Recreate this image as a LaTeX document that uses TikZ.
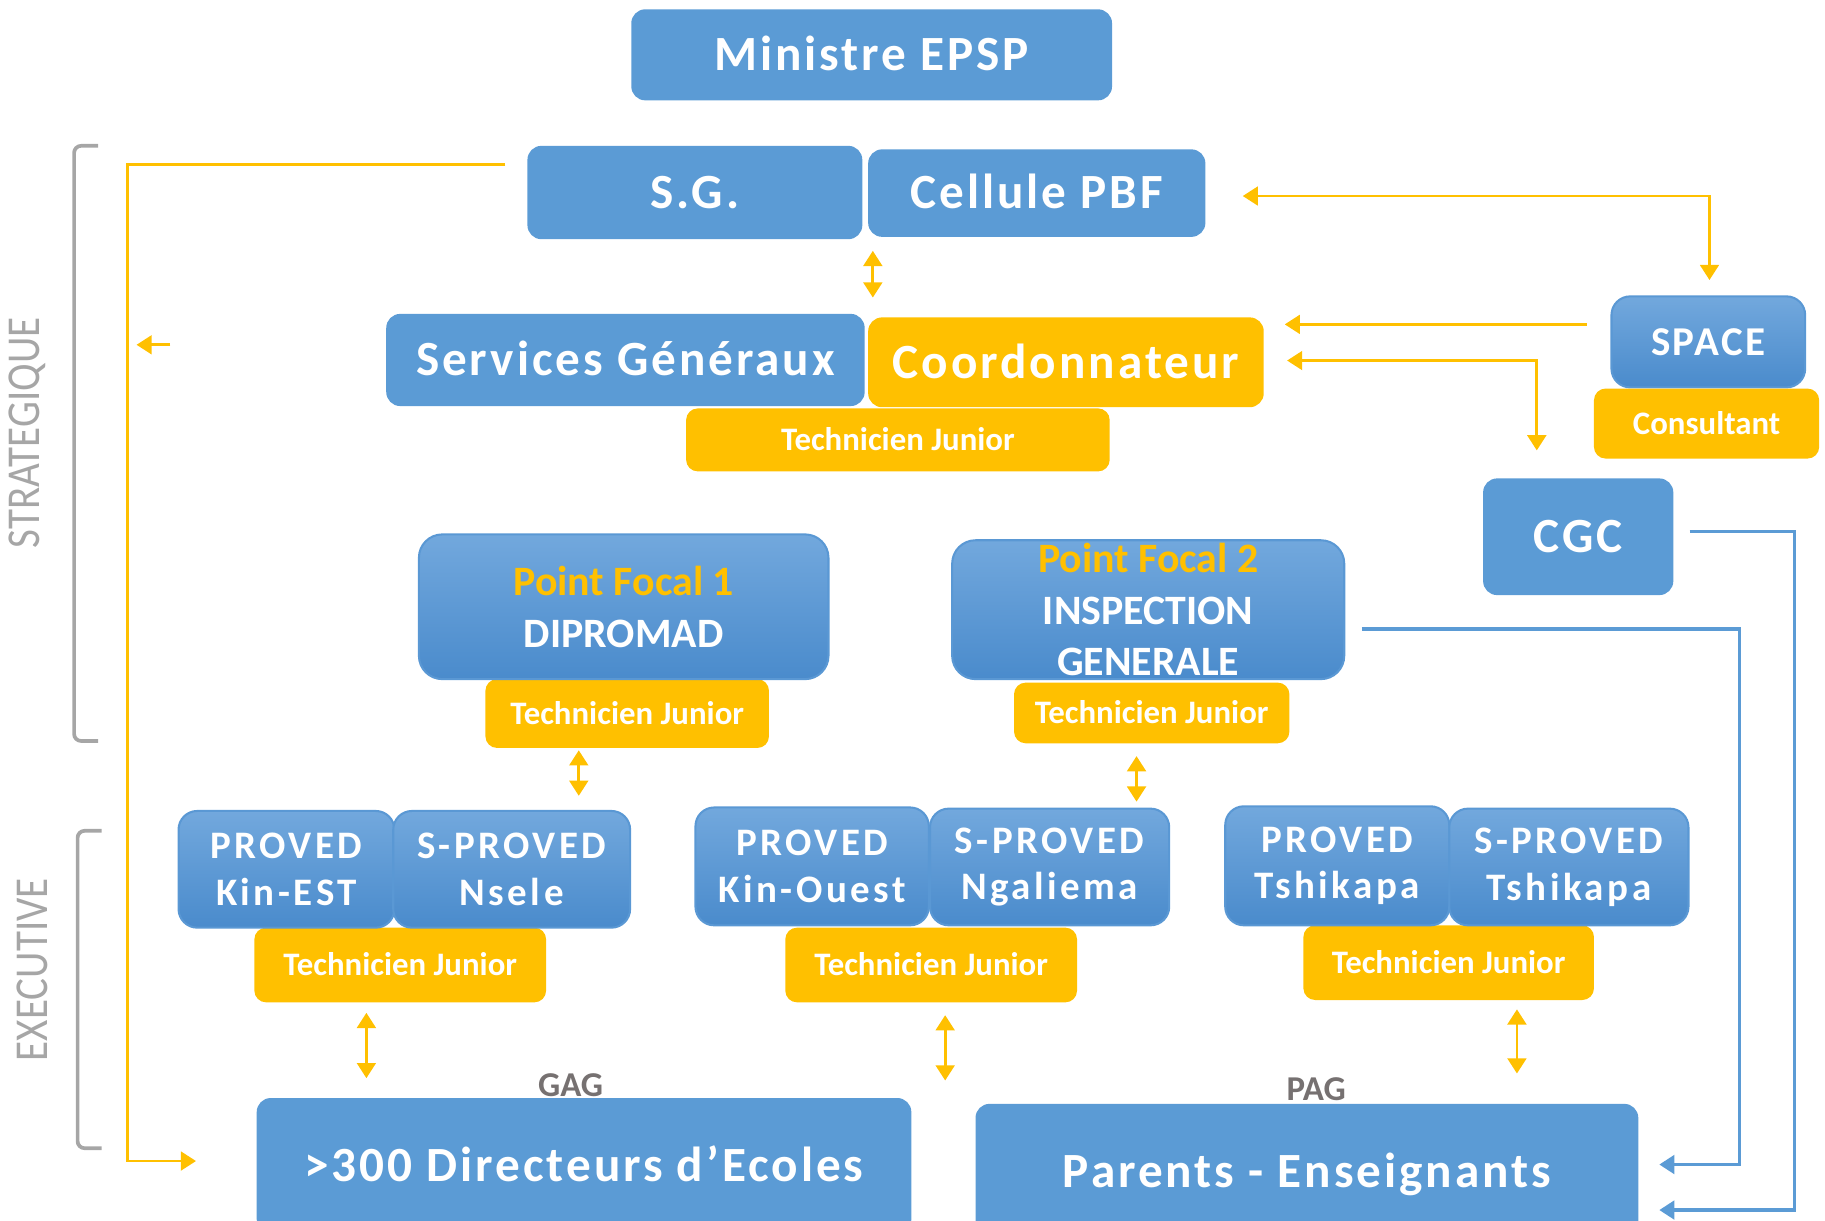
\documentclass[tikz,border=0pt]{standalone}
\usepackage{fontspec}
\setmainfont{Carlito}
\newfontfamily\spacedfont[LetterSpace=6]{Carlito}
\newfontfamily\provedfont[LetterSpace=9]{Carlito}
\usetikzlibrary{arrows.meta}

\definecolor{boxblue}{HTML}{5B9BD5}
\definecolor{gradtop}{HTML}{72A8DD}
\definecolor{gradbot}{HTML}{4A8BCC}
\definecolor{gradedge}{HTML}{5A98D4}
\definecolor{techyellow}{HTML}{FFC000}
\definecolor{levelgray}{HTML}{A6A6A6}
\definecolor{taggray}{HTML}{767171}

\newcommand\unitfont{\spacedfont\bfseries\fontsize{12}{14}\selectfont}
\newcommand\spacefont{\spacedfont\bfseries\fontsize{10}{12}\selectfont}
\newcommand\provfont{\provedfont\bfseries\fontsize{9.5}{11.4}\selectfont}
\newcommand\focalfont{\bfseries\fontsize{10.2}{12.6}\selectfont}
\newcommand\techfont{\bfseries\fontsize{8}{9.6}\selectfont}
\newcommand\tagfont{\bfseries\fontsize{8.5}{10}\selectfont}
\newcommand\levelfont{\fontsize{11.5}{13}\selectfont}

\begin{document}
\begin{tikzpicture}[>={Triangle[length=1.3mm,width=1.6mm]},
    every node/.style={inner sep=0pt, outer sep=0pt, align=center, text=white},
    unit/.style={fill=boxblue, rounded corners=1.2mm, font=\unitfont, text height=7.7pt, text depth=0pt},
    shaded/.style={top color=gradtop, bottom color=gradbot, draw=gradedge, line width=0.5pt, rounded corners=1.6mm},
    tech/.style={fill=techyellow, rounded corners=1mm, font=\techfont, text height=5.2pt, text depth=0pt},
    link/.style={draw=techyellow, line width=0.7pt},
    bluelink/.style={draw=boxblue, line width=0.8pt},
    level/.style={text=levelgray, font=\levelfont, rotate=90},
    bracket/.style={draw=levelgray, line width=0.9pt, rounded corners=0.6mm}]
        \useasboundingbox (0,0) rectangle (15.64,-10.46);
        \clip (0,0) rectangle (15.64,-10.46);

        % strategic level
        \node[unit, minimum width=4.12cm, minimum height=0.78cm](ministre) at (7.47,-0.47) {Ministre EPSP};
        \node[unit, minimum width=2.87cm, minimum height=0.80cm](sg) at (5.955,-1.65) {S.G.};
        \node[unit, minimum width=2.89cm, minimum height=0.75cm](pbf) at (8.885,-1.655) {Cellule PBF};
        \node[tech, minimum width=3.63cm, minimum height=0.54cm](tjcoord) at (7.695,-3.77) {Technicien Junior};
        \node[unit, minimum width=4.10cm, minimum height=0.79cm](servgen) at (5.36,-3.085) {Services Généraux};
        \node[unit, fill=techyellow, minimum width=3.39cm, minimum height=0.77cm](coord) at (9.135,-3.105) {Coordonnateur};
        \node[shaded, font=\spacefont, text height=6.4pt, text depth=0pt, minimum width=1.66cm, minimum height=0.78cm](space) at (14.64,-2.93) {SPACE};
        \node[tech, minimum width=1.93cm, minimum height=0.60cm](consult) at (14.625,-3.63) {Consultant};
        \node[unit, minimum width=1.63cm, minimum height=1.00cm](cgc) at (13.525,-4.60) {CGC};

        % focal points
        \node[tech, minimum width=2.43cm, minimum height=0.59cm](tjfocal1) at (5.375,-6.115) {Technicien Junior};
        \node[shaded, rounded corners=2mm, font=\focalfont, minimum width=3.51cm, minimum height=1.24cm](focal1) at (5.345,-5.20) {\textcolor{techyellow}{Point Focal 1}\\DIPROMAD};
        \node[tech, minimum width=2.36cm, minimum height=0.52cm](tjfocal2) at (9.87,-6.11) {Technicien Junior};
        \node[shaded, rounded corners=2mm, font=\focalfont, minimum width=3.36cm, minimum height=1.19cm](focal2) at (9.84,-5.225) {\textcolor{techyellow}{Point Focal 2}\\INSPECTION\\GENERALE};

        % executive level
        \node[tech, minimum width=2.50cm, minimum height=0.64cm](tjkin1) at (3.43,-8.27) {Technicien Junior};
        \node[shaded, font=\provfont, minimum width=1.85cm, minimum height=1.00cm](provkinest) at (2.455,-7.45) {PROVED\\Kin-EST};
        \node[shaded, font=\provfont, minimum width=2.03cm, minimum height=1.00cm](sprovnsele) at (4.385,-7.45) {S-PROVED\\Nsele};
        \node[tech, minimum width=2.50cm, minimum height=0.64cm](tjkin2) at (7.98,-8.27) {Technicien Junior};
        \node[shaded, font=\provfont, minimum width=2.00cm, minimum height=1.01cm](provkinouest) at (6.96,-7.425) {PROVED\\Kin-Ouest};
        \node[shaded, font=\provfont, minimum width=2.05cm, minimum height=1.00cm](sprovngaliema) at (8.995,-7.43) {S-PROVED\\Ngaliema};
        \node[tech, minimum width=2.49cm, minimum height=0.64cm](tjtshikapa) at (12.415,-8.25) {Technicien Junior};
        \node[shaded, font=\provfont, minimum width=1.92cm, minimum height=1.02cm](provtshikapa) at (11.46,-7.42) {PROVED\\Tshikapa};
        \node[shaded, font=\provfont, minimum width=2.05cm, minimum height=1.00cm](sprovtshikapa) at (13.445,-7.43) {S-PROVED\\Tshikapa};

        \node[unit, minimum width=5.61cm, minimum height=1.16cm](directeurs) at (5.005,-9.99) {>300 Directeurs d’Ecoles};
        \node[unit, minimum width=5.68cm, minimum height=1.16cm](parents) at (11.20,-10.04) {Parents - Enseignants};
        \node[text=taggray, font=\tagfont](gag) at (4.89,-9.30) {GAG};
        \node[text=taggray, font=\tagfont](pag) at (11.28,-9.33) {PAG};

        % levels
        \node[level](strategique) at (0.235,-3.71) {\scalebox{0.87}[1]{STRATEGIQUE}};
        \node[level](executive) at (0.275,-8.31) {\scalebox{0.87}[1]{EXECUTIVE}};
        \draw[bracket] (0.84,-1.25) -- (0.635,-1.25) -- (0.635,-6.35) -- (0.84,-6.35);
        \draw[bracket] (0.87,-7.12) -- (0.665,-7.12) -- (0.665,-9.84) -- (0.87,-9.84);

        % links
        \coordinate (sgtail) at (4.33,-1.41);
        \coordinate (leftbend) at (1.09,-1.41);
        \coordinate (dirtip) at (1.68,-9.95);
        \draw[link,->] (sgtail) -- (leftbend) |- (dirtip);
        \coordinate (stubtail) at (1.46,-2.955);
        \coordinate (stubtip) at (1.17,-2.955);
        \draw[link,->] (stubtail) -- (stubtip);

        \coordinate (sgbelow) at (7.48,-2.15);
        \coordinate (coordabove) at (7.48,-2.55);
        \draw[link,<->] (sgbelow) -- (coordabove);
        \coordinate (pbfright) at (10.65,-1.68);
        \coordinate (spaceabove) at (14.65,-2.40);
        \draw[link,<->] (pbfright) -| (spaceabove);
        \coordinate (coordright1) at (11.01,-2.78);
        \coordinate (spaceleft) at (13.60,-2.78);
        \draw[link,<-] (coordright1) -- (spaceleft);
        \coordinate (coordright2) at (11.03,-3.09);
        \coordinate (cgcabove) at (13.17,-3.86);
        \draw[link,<->] (coordright2) -| (cgcabove);

        \coordinate (focal1below) at (4.96,-6.43);
        \coordinate (kinestabove) at (4.96,-6.82);
        \draw[link,<->] (focal1below) -- (kinestabove);
        \coordinate (focal2below) at (9.74,-6.48);
        \coordinate (kinouestabove) at (9.74,-6.87);
        \draw[link,<->] (focal2below) -- (kinouestabove);
        \coordinate (tjkin1below) at (3.14,-8.68);
        \coordinate (dirabove1) at (3.14,-9.24);
        \draw[link,<->] (tjkin1below) -- (dirabove1);
        \coordinate (tjkin2below) at (8.10,-8.70);
        \coordinate (dirabove2) at (8.10,-9.26);
        \draw[link,<->] (tjkin2below) -- (dirabove2);
        \coordinate (tjtshikapabelow) at (13.00,-8.65);
        \coordinate (parentsabove) at (13.00,-9.20);
        \draw[link,<->] (tjtshikapabelow) -- (parentsabove);

        \coordinate (focal2right) at (11.67,-5.39);
        \coordinate (bluebend1) at (14.91,-5.39);
        \coordinate (parentstip1) at (14.22,-9.98);
        \draw[bluelink,->] (focal2right) -- (bluebend1) |- (parentstip1);
        \coordinate (cgcright) at (14.48,-4.555);
        \coordinate (bluebend2) at (15.38,-4.555);
        \coordinate (parentstip2) at (14.22,-10.37);
        \draw[bluelink,->] (cgcright) -- (bluebend2) |- (parentstip2);
    \end{tikzpicture}
\end{document}
